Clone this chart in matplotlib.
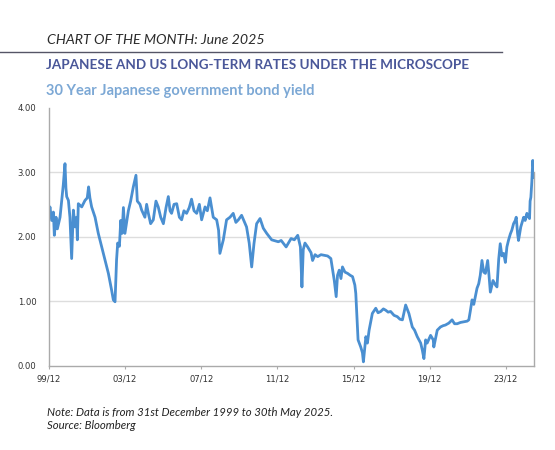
import matplotlib
matplotlib.use("Agg")
import matplotlib.pyplot as plt
import numpy as np

# 30Y JGB yield (decimal year, %)
years = [
    1999.92, 1999.97, 2000.06, 2000.15, 2000.20, 2000.29, 2000.36, 2000.50, 2000.60, 2000.67,
    2000.76, 2000.81, 2000.85, 2000.94, 2001.02, 2001.11, 2001.20, 2001.29, 2001.37, 2001.41,
    2001.46, 2001.64, 2001.81, 2001.93, 2002.00, 2002.07, 2002.16, 2002.34, 2002.51, 2002.69,
    2002.77, 2002.86, 2003.04, 2003.21, 2003.30, 2003.39, 2003.47, 2003.53, 2003.62, 2003.69,
    2003.76, 2003.83, 2003.91, 2004.09, 2004.21, 2004.35, 2004.49, 2004.56, 2004.70, 2004.79,
    2004.96, 2005.05, 2005.14, 2005.26, 2005.40, 2005.54, 2005.66, 2005.79, 2005.93, 2006.07,
    2006.19, 2006.28, 2006.36, 2006.49, 2006.63, 2006.77, 2006.89, 2007.01, 2007.15, 2007.29,
    2007.41, 2007.54, 2007.68, 2007.82, 2007.94, 2008.12, 2008.24, 2008.38, 2008.55, 2008.73,
    2008.83, 2008.90, 2009.08, 2009.25, 2009.43, 2009.60, 2009.74, 2009.87, 2010.04, 2010.30,
    2010.44, 2010.57, 2010.69, 2010.83, 2011.01, 2011.18, 2011.36, 2011.62, 2011.97, 2012.12,
    2012.38, 2012.64, 2012.81, 2012.99, 2013.13, 2013.21, 2013.28, 2013.37, 2013.51, 2013.69,
    2013.77, 2013.90, 2014.04, 2014.21, 2014.38, 2014.56, 2014.73, 2014.84, 2014.91, 2015.01,
    2015.08, 2015.17, 2015.26, 2015.34, 2015.47, 2015.61, 2015.75, 2015.87, 2015.99, 2016.04,
    2016.16, 2016.30, 2016.39, 2016.44, 2016.57, 2016.65, 2016.74, 2016.91, 2017.09, 2017.21,
    2017.35, 2017.49, 2017.61, 2017.74, 2017.87, 2018.05, 2018.22, 2018.36, 2018.49, 2018.66,
    2018.83, 2019.01, 2019.13, 2019.27, 2019.45, 2019.53, 2019.62, 2019.71, 2019.79, 2019.97,
    2020.11, 2020.14, 2020.32, 2020.49, 2020.63, 2020.75, 2020.93, 2021.10, 2021.23, 2021.37,
    2021.54, 2021.71, 2021.89, 2021.98, 2022.06, 2022.15, 2022.24, 2022.32, 2022.41, 2022.50,
    2022.58, 2022.67, 2022.76, 2022.85, 2022.97, 2023.04, 2023.11, 2023.25, 2023.38, 2023.46,
    2023.55, 2023.63, 2023.72, 2023.81, 2023.90, 2023.98, 2024.07, 2024.16, 2024.24, 2024.33,
    2024.42, 2024.47, 2024.54, 2024.59, 2024.71, 2024.86, 2024.94, 2025.03, 2025.12, 2025.17,
    2025.20, 2025.24, 2025.29, 2025.34, 2025.38, 2025.41,
]
yields = [
    2.35, 2.46, 2.25, 2.38, 2.02, 2.30, 2.12, 2.30, 2.60, 2.80,
    3.13, 2.75, 2.62, 2.56, 2.30, 1.66, 2.41, 2.15, 2.30, 1.95,
    2.51, 2.46, 2.56, 2.60, 2.77, 2.60, 2.46, 2.30, 2.05, 1.84,
    1.75, 1.64, 1.43, 1.17, 1.02, 0.99, 1.64, 1.90, 1.85, 2.25,
    2.05, 2.45, 2.05, 2.40, 2.55, 2.77, 2.95, 2.55, 2.50, 2.41,
    2.30, 2.50, 2.36, 2.20, 2.26, 2.55, 2.46, 2.30, 2.20, 2.45,
    2.62, 2.40, 2.36, 2.50, 2.51, 2.30, 2.26, 2.40, 2.36, 2.45,
    2.58, 2.40, 2.36, 2.50, 2.26, 2.46, 2.40, 2.60, 2.30, 2.26,
    2.10, 1.74, 1.95, 2.26, 2.30, 2.36, 2.22, 2.26, 2.33, 2.15,
    1.90, 1.53, 1.89, 2.20, 2.28, 2.13, 2.05, 1.95, 1.92, 1.94,
    1.84, 1.97, 1.95, 2.02, 1.84, 1.22, 1.80, 1.90, 1.84, 1.75,
    1.63, 1.72, 1.69, 1.72, 1.71, 1.70, 1.66, 1.45, 1.32, 1.07,
    1.40, 1.48, 1.35, 1.53, 1.45, 1.43, 1.40, 1.38, 1.25, 1.12,
    0.40, 0.29, 0.20, 0.06, 0.45, 0.35, 0.55, 0.81, 0.89, 0.82,
    0.84, 0.88, 0.86, 0.83, 0.84, 0.78, 0.76, 0.72, 0.71, 0.94,
    0.81, 0.60, 0.55, 0.45, 0.35, 0.25, 0.11, 0.40, 0.35, 0.47,
    0.40, 0.29, 0.55, 0.60, 0.62, 0.63, 0.66, 0.71, 0.65, 0.65,
    0.67, 0.68, 0.69, 0.71, 0.85, 1.02, 0.95, 1.07, 1.20, 1.27,
    1.40, 1.63, 1.45, 1.43, 1.63, 1.40, 1.14, 1.32, 1.25, 1.22,
    1.65, 1.89, 1.70, 1.74, 1.60, 1.84, 1.95, 2.04, 2.10, 2.20,
    2.25, 2.30, 2.05, 1.94, 2.15, 2.30, 2.25, 2.36, 2.30, 2.28,
    2.55, 2.61, 2.85, 3.18, 3.05, 2.92,
]

tick_years = [1999.92, 2003.92, 2007.92, 2011.92, 2015.92, 2019.92, 2023.92]
tick_labels = ["99/12", "03/12", "07/12", "11/12", "15/12", "19/12", "23/12"]
y_ticks = [0, 1, 2, 3, 4]

W, H = 555, 450
fig = plt.figure(figsize=(W / 100, H / 100), dpi=100)


def fy(py):
    # pixel row (from top) -> figure fraction
    return 1 - py / H


ax = fig.add_axes([49 / W, fy(365.7), (534.3 - 49) / W, (365.7 - 107.5) / H])

ax.plot(years, yields, color="#4a8fd1", lw=2.0, solid_joinstyle="round")

ax.set_xlim(1999.92, 2025.42)
ax.set_ylim(0, 4)
ax.set_yticks(y_ticks)
ax.set_yticklabels([f"{v:.2f}" for v in y_ticks])
ax.set_xticks(tick_years)
ax.set_xticklabels(tick_labels)

for v in y_ticks[1:-1]:
    ax.axhline(v, color="#dddddd", lw=1.0, zorder=0)

ax.spines["top"].set_visible(False)
for side in ["left", "bottom", "right"]:
    ax.spines[side].set_color("#aaaaaa")
    ax.spines[side].set_linewidth(1.0)
ax.spines["right"].set_bounds(0, 3.0)

ax.tick_params(axis="y", length=0, pad=9, labelsize=6.1, labelcolor="#333333")
ax.tick_params(axis="x", length=2.5, width=0.8, color="#aaaaaa", pad=4,
               labelsize=6.1, labelcolor="#333333")

# header block
fig.text(47 / W, fy(44.5), "CHART OF THE MONTH: June 2025", fontfamily="Lato",
         fontstyle="italic", fontsize=10.2, color="#2b2b2b", va="baseline")
fig.add_artist(plt.Line2D([0, 502 / W], [fy(52.3), fy(52.3)], color="#555566", lw=1.0))
fig.text(46 / W, fy(69), "JAPANESE AND US LONG-TERM RATES UNDER THE MICROSCOPE",
         fontfamily="Lato", fontweight="bold", fontsize=9.75, color="#4a5799", va="baseline")
fig.text(46 / W, fy(94.5), "30 Year Japanese government bond yield",
         fontfamily="Lato", fontweight="bold", fontsize=10.5, color="#7ca8d5", va="baseline")

# footnote
fig.text(47 / W, fy(416), "Note: Data is from 31st December 1999 to 30th May 2025.",
         fontfamily="Lato", fontstyle="italic", fontsize=8.2, color="#222222", va="baseline")
fig.text(47 / W, fy(429), "Source: Bloomberg",
         fontfamily="Lato", fontstyle="italic", fontsize=8.2, color="#222222", va="baseline")

fig.savefig("out.png", dpi=100)
